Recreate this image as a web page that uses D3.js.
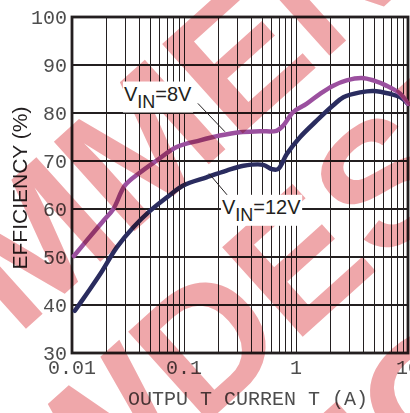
<!DOCTYPE html>
<html lang="en">
<head>
<meta charset="UTF-8">
<title>Efficiency vs output current</title>
<script src="https://cdn.jsdelivr.net/npm/d3@7"></script>
<style>
	body{ margin:0; background:#fff; }
	.tick-label{ font-family:"Liberation Mono", "DejaVu Sans Mono", monospace; font-size:20px; fill:#4d4d4d; }
	.grid line{ stroke:#231f20; stroke-width:1.4; shape-rendering:crispEdges; }
	.frame{ fill:none; stroke:#231f20; stroke-width:2.8; }
	.curve{ fill:none; stroke-width:4.5; stroke-linejoin:round; stroke-linecap:round; }
	.ann{ font-family:"Liberation Sans", Arial, sans-serif; fill:#231f20; }
	.wm{ font-family:"Liberation Sans", Arial, sans-serif; font-weight:bold; font-size:175px; fill:#efa7aa; }
</style>
</head>
<body>
<div id="chart"></div>
<script>
var xTicks = [0.01, 0.1, 1, 10];
var xTickLabels = ["0.01", "0.1", "1", "10"];
var yTicks = [30, 40, 50, 60, 70, 80, 90, 100];

// VIN = 8V
var cur8 = [0.0104, 0.0135, 0.019, 0.0234, 0.0297, 0.0405, 0.057, 0.086, 0.139, 0.209, 0.316, 0.477, 0.67, 0.77, 0.944, 1.24, 1.64, 2.15, 2.83, 3.86, 4.9, 6.4, 8.5, 10];
var eff8 = [50.2, 53.4, 57.5, 60.0, 64.9, 67.6, 70.1, 72.9, 74.3, 75.3, 76.0, 76.2, 76.3, 77.4, 80.2, 81.9, 84.0, 85.7, 86.8, 87.3, 86.8, 85.7, 84.0, 81.9];

// VIN = 12V
var cur12 = [0.0106, 0.0135, 0.0178, 0.0251, 0.0353, 0.0497, 0.07, 0.0985, 0.159, 0.24, 0.34, 0.51, 0.61, 0.69, 0.83, 1.08, 1.53, 2.15, 2.65, 3.73, 4.9, 6.9, 8.5, 10];
var eff12 = [38.8, 42.3, 46.4, 52.0, 56.2, 59.6, 62.4, 64.9, 66.6, 68.0, 69.0, 69.2, 68.3, 68.3, 71.5, 74.9, 78.4, 81.6, 83.3, 84.3, 84.6, 84.0, 83.3, 81.9];

var width = 410, height = 413;
var svg = d3.select("#chart").append("svg")
	.attr("width", width)
	.attr("height", height);

var x = d3.scaleLog().domain([0.01, 10]).range([72, 408]);
var y = d3.scaleLinear().domain([30, 100]).range([353, 17]);

// minor + major vertical grid
var vLines = [];
[0.01, 0.1, 1].forEach(function(dec){
	for (var k = 1; k <= 9; k++) vLines.push(dec * k);
});
vLines.push(10);

var grid = svg.append("g").attr("class", "grid");
grid.selectAll("line.v")
	.data(vLines)
	.enter().append("line")
	.attr("class", "v")
	.attr("x1", function(d){ return Math.round(x(d)) + 0.5; })
	.attr("x2", function(d){ return Math.round(x(d)) + 0.5; })
	.attr("y1", y(100))
	.attr("y2", y(30));
grid.selectAll("line.h")
	.data(yTicks)
	.enter().append("line")
	.attr("class", "h")
	.attr("x1", x(0.01))
	.attr("x2", x(10))
	.attr("y1", function(d){ return y(d); })
	.attr("y2", function(d){ return y(d); });

svg.append("rect")
	.attr("class", "frame")
	.attr("x", x(0.01))
	.attr("y", y(100))
	.attr("width", x(10) - x(0.01))
	.attr("height", y(30) - y(100));

// curves
var line = d3.line()
	.x(function(d){ return x(d[0]); })
	.y(function(d){ return y(d[1]); })
	.curve(d3.curveCatmullRom.alpha(0.5));

svg.append("path")
	.attr("class", "curve")
	.attr("stroke", "#2a2c5f")
	.attr("d", line(d3.zip(cur12, eff12)));
svg.append("path")
	.attr("class", "curve")
	.attr("stroke", "#9b509f")
	.attr("d", line(d3.zip(cur8, eff8)));

// tick labels
svg.selectAll("text.yt")
	.data(yTicks)
	.enter().append("text")
	.attr("class", "tick-label yt")
	.attr("x", 67)
	.attr("y", function(d){ return y(d); })
	.attr("dy", "0.33em")
	.attr("text-anchor", "end")
	.text(function(d){ return d; });

svg.selectAll("text.xt")
	.data(xTicks)
	.enter().append("text")
	.attr("class", "tick-label xt")
	.attr("x", function(d){ return x(d); })
	.attr("y", 374)
	.attr("text-anchor", "middle")
	.text(function(d, i){ return xTickLabels[i]; });

svg.append("text")
	.attr("class", "tick-label")
	.attr("x", 248)
	.attr("y", 405)
	.attr("text-anchor", "middle")
	.text("OUTPU T CURREN T (A)");

svg.append("text")
	.attr("class", "ann")
	.attr("transform", "translate(27,188) rotate(-90)")
	.attr("text-anchor", "middle")
	.style("font-size", "21px")
	.text("EFFICIENCY (%)");

// watermark
var wm = svg.append("g")
	.attr("transform", "translate(200,429) rotate(-42)")
	.style("mix-blend-mode", "multiply");
wm.append("text").attr("class", "wm").attr("text-anchor", "end").attr("x", 0).attr("y", 0).text("FOR NEW ");
wm.append("text").attr("class", "wm").attr("x", 0).attr("y", 0).text("DESIGNS");
wm.append("text").attr("class", "wm").attr("text-anchor", "end").attr("x", 72).attr("y", -191).text("NOT RECOM");
wm.append("text").attr("class", "wm").attr("x", 72).attr("y", -191).text("MENDED");
wm.append("text").attr("class", "wm").attr("x", -113).attr("y", 191).text("RECOMMENDED");

// labels with leader lines
var labels = [
	{num: "8", at: [0.0291, 82.6], from: [0.133, 82.0], to: [0.232, 76.1]},
	{num: "12", at: [0.218, 59.0], from: [0.167, 67.4], to: [0.258, 62.2]}
];
labels.forEach(function(l){
	svg.append("line")
		.attr("x1", x(l.from[0])).attr("y1", y(l.from[1]))
		.attr("x2", x(l.to[0])).attr("y2", y(l.to[1]))
		.attr("stroke", "#231f20").attr("stroke-width", 1);
	var g = svg.append("g");
	var bg = g.append("rect").attr("fill", "#fff");
	var t = g.append("text")
		.attr("class", "ann")
		.attr("x", x(l.at[0]))
		.attr("y", y(l.at[1]))
		.style("font-size", "20px");
	t.append("tspan").text("V");
	t.append("tspan").attr("dy", 7).style("font-size", "18px").text("IN");
	t.append("tspan").attr("dy", -7).text("=" + l.num + "V");
	var b = t.node().getBBox();
	bg.attr("x", b.x - 1).attr("y", b.y - 1).attr("width", b.width + 2).attr("height", b.height + 2);
});
</script>
</body>
</html>
